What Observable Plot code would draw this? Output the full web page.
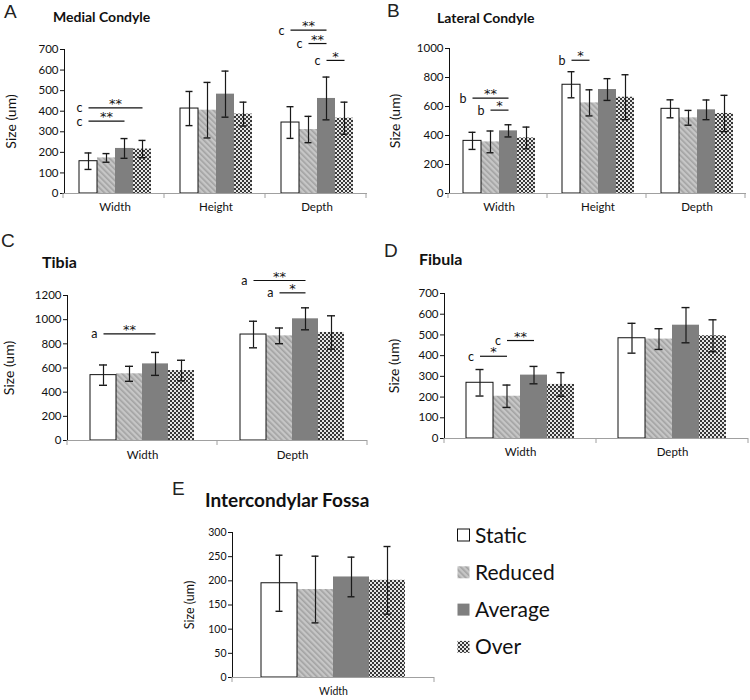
<!DOCTYPE html>
<html>
<head>
<meta charset="utf-8">
<script src="https://cdn.jsdelivr.net/npm/d3@7"></script>
<script src="https://cdn.jsdelivr.net/npm/@observablehq/plot@0.6"></script>
<style>
  body { margin: 0; background: #fff; font-family: Lato, sans-serif; }
  #root { position: relative; width: 750px; height: 700px; overflow: hidden; background: #fff; }
  #root > .panel { position: absolute; }
  #root svg { overflow: visible; }
  [aria-label="y-axis label"] { font-size: 14px; }
  .small [aria-label="y-axis label"] { font-size: 12.5px; }
  [aria-label="y-axis tick"] { stroke: #a0a0a0; }
  [aria-label="frame"] { stroke: #a0a0a0; }
  #overlay { position: absolute; left: 0; top: 0; pointer-events: none; }
</style>
</head>
<body>
<svg width="0" height="0" style="position:absolute">
  <defs>
    <pattern id="pRed" width="4" height="4" patternUnits="userSpaceOnUse" patternTransform="rotate(-45)">
      <rect width="4" height="4" fill="#c6c6c6"></rect>
      <rect width="1.6" height="4" fill="#a2a2a2"></rect>
    </pattern>
    <pattern id="pOver" width="4" height="4" patternUnits="userSpaceOnUse">
      <rect width="4" height="4" fill="#e6e6e6"></rect>
      <rect width="2" height="2" fill="#383838"></rect>
      <rect x="2" y="2" width="2" height="2" fill="#383838"></rect>
    </pattern>
  </defs>
</svg>
<div id="root"></div>
<script>
// ---------- data ----------
const series = ["Static", "Reduced", "Average", "Over"];
const seriesFill = ["#ffffff", "url(#pRed)", "#7f7f7f", "url(#pOver)"];

// A: Medial Condyle
const medialCats = ["Width", "Height", "Depth"];
const medialMean = [[157, 173, 219, 216], [413, 405, 483, 386], [345, 311, 462, 366]];
const medialErr  = [[40, 21, 48, 42], [83, 135, 112, 58], [77, 64, 104, 78]];
const medialSig = [
  {cat: "Width", from: "Static", to: "Over", y: 416, letter: "c", stars: "**"},
  {cat: "Width", from: "Static", to: "Average", y: 352, letter: "c", stars: "**"},
  {cat: "Depth", from: "Static", to: "Average", y: 794, letter: "c", stars: "**"},
  {cat: "Depth", from: "Reduced", to: "Average", y: 729, letter: "c", stars: "**"},
  {cat: "Depth", from: "Average", to: "Over", y: 647, letter: "c", stars: "*"}
];

// B: Lateral Condyle
const lateralCats = ["Width", "Height", "Depth"];
const lateralMean = [[363, 356, 432, 383], [750, 625, 717, 664], [584, 522, 577, 552]];
const lateralErr  = [[59, 75, 42, 75], [90, 90, 75, 155], [62, 51, 68, 125]];
const lateralSig = [
  {cat: "Width", from: "Static", to: "Average", y: 658, letter: "b", stars: "**"},
  {cat: "Width", from: "Reduced", to: "Average", y: 575, letter: "b", stars: "*"},
  {cat: "Height", from: "Static", to: "Reduced", y: 919, letter: "b", stars: "*"}
];

// C: Tibia
const tibiaCats = ["Width", "Depth"];
const tibiaMean = [[541, 552, 634, 579], [877, 866, 1007, 894]];
const tibiaErr  = [[84, 62, 95, 85], [110, 65, 91, 138]];
const tibiaSig = [
  {cat: "Width", from: "Static", to: "Average", y: 883, letter: "a", stars: "**"},
  {cat: "Depth", from: "Static", to: "Average", y: 1324, letter: "a", stars: "**"},
  {cat: "Depth", from: "Reduced", to: "Average", y: 1222, letter: "a", stars: "*"}
];

// D: Fibula
const fibulaCats = ["Width", "Depth"];
const fibulaMean = [[269, 204, 306, 261], [484, 480, 547, 496]];
const fibulaErr  = [[64, 54, 42, 57], [72, 50, 85, 77]];
const fibulaSig = [
  {cat: "Width", from: "Static", to: "Reduced", y: 397, letter: "c", stars: "*"},
  {cat: "Width", from: "Reduced", to: "Average", y: 473, letter: "c", stars: "**"}
];

// E: Intercondylar Fossa
const fossaCats = ["Width"];
const fossaMean = [[195, 182, 208, 201]];
const fossaErr  = [[58, 69, 41, 70]];
const fossaSig = [];

// ---------- drawing ----------
const root = document.getElementById("root");

function panel(cfg) {
  const rows = [];
  cfg.cats.forEach((c, ci) => series.forEach((s, si) =>
    rows.push({cat: c, series: s, mean: cfg.means[ci][si], err: cfg.errs[ci][si]})));
  const sIdx = s => series.indexOf(s);

  const make = (step, bw) => {
    const inset = Math.max(0, (bw - cfg.cap) / 2);
    return Plot.plot({
      width: cfg.w, height: cfg.h,
      marginTop: cfg.mt, marginRight: cfg.mr, marginBottom: cfg.mb, marginLeft: cfg.ml,
      style: {fontFamily: "Lato, sans-serif", fontSize: cfg.fs + "px", color: "#111", background: "transparent", overflow: "visible"},
      fx: {domain: cfg.cats, padding: 0, axis: "bottom", tickSize: 0, tickPadding: cfg.tp, label: null},
      x: {domain: series, paddingInner: 0, paddingOuter: cfg.po, axis: null},
      y: {domain: [0, cfg.yMax], ticks: d3.range(0, cfg.yMax + 1, cfg.yStep), tickFormat: d => String(d),
          tickSize: 4, tickPadding: 2,
          label: "Size (um)", labelAnchor: "center", labelOffset: cfg.lo, labelArrow: "none", line: true},
      color: {type: "ordinal", domain: series, range: seriesFill},
      marks: [
        Plot.barY(rows, {fx: "cat", x: "series", y: "mean", fill: "series"}),
        Plot.barY(rows.filter(d => d.series === "Static"), {fx: "cat", x: "series", y: "mean", fill: "none", stroke: "#111", strokeWidth: 1}),
        Plot.ruleY([0], {stroke: "#a0a0a0"}),
        Plot.ruleX(rows, {fx: "cat", x: "series", y1: d => d.mean - d.err, y2: d => d.mean + d.err, stroke: "#1a1a1a", strokeWidth: 1.2}),
        Plot.tickY(rows, {fx: "cat", x: "series", y: d => d.mean + d.err, insetLeft: inset, insetRight: inset, stroke: "#1a1a1a", strokeWidth: 1.4}),
        Plot.tickY(rows, {fx: "cat", x: "series", y: d => d.mean - d.err, insetLeft: inset, insetRight: inset, stroke: "#1a1a1a", strokeWidth: 1.4}),
        Plot.link(cfg.sig, {fx: "cat", x1: "from", x2: "to", y1: "y", y2: "y", stroke: "#111", strokeWidth: 1.2}),
        Plot.text(cfg.sig, {fx: "cat", x: "from", y: "y", text: "letter", textAnchor: "end", dx: -6, dy: 0.5, fontSize: 12.5, fill: "#111"}),
        ...cfg.sig.map(s => Plot.text([s], {fx: "cat", x: "from", y: "y", text: "stars",
          dx: (sIdx(s.to) - sIdx(s.from)) * step / 2, dy: -4, fontSize: 13, fontFamily: "DejaVu Sans, sans-serif",
          letterSpacing: "1px", fill: "#111"}))
      ]
    });
  };

  let chart = make(0, 0);
  const xs = chart.scale("x");
  const step = xs.step ?? xs.bandwidth;
  chart = make(step, xs.bandwidth);

  // Excel-style category separator ticks, from the plot's own fx / y scales
  const fx = chart.scale("fx"), ys = chart.scale("y");
  const fstep = fx.step ?? fx.bandwidth;
  const y0 = ys.apply(0);
  const edges = d3.range(cfg.cats.length + 1).map(i => fx.range[0] + i * fstep);
  d3.select(chart).append("g").attr("aria-label", "category separators")
    .selectAll("line").data(edges).join("line")
    .attr("x1", d => d).attr("x2", d => d).attr("y1", y0).attr("y2", y0 + 5)
    .attr("stroke", "#a0a0a0");

  const div = document.createElement("div");
  div.className = "panel" + (cfg.small ? " small" : "");
  div.style.left = cfg.left + "px";
  div.style.top = cfg.top + "px";
  div.appendChild(chart);
  root.appendChild(div);
}

panel({cats: medialCats, means: medialMean, errs: medialErr, sig: medialSig, yMax: 700, yStep: 100,
  left: 0, top: 0, w: 370, h: 222, mt: 49, mr: 2, mb: 29, ml: 63, po: 0.75, tp: 9, lo: 58, fs: 11.5, cap: 7});
panel({cats: lateralCats, means: lateralMean, errs: lateralErr, sig: lateralSig, yMax: 1000, yStep: 200,
  left: 370, top: 0, w: 380, h: 222, mt: 48, mr: 3, mb: 29, ml: 78, po: 0.75, tp: 9, lo: 59, fs: 11.5, cap: 7});
panel({cats: tibiaCats, means: tibiaMean, errs: tibiaErr, sig: tibiaSig, yMax: 1200, yStep: 200,
  left: 0, top: 230, w: 370, h: 232, mt: 65, mr: 3, mb: 22, ml: 67, po: 0.78, tp: 10, lo: 63, fs: 11.5, cap: 8});
panel({cats: fibulaCats, means: fibulaMean, errs: fibulaErr, sig: fibulaSig, yMax: 700, yStep: 100,
  left: 370, top: 230, w: 380, h: 232, mt: 63, mr: 2, mb: 24, ml: 74, po: 0.78, tp: 9, lo: 55, fs: 11.5, cap: 8});
panel({cats: fossaCats, means: fossaMean, errs: fossaErr, sig: fossaSig, yMax: 300, yStep: 50,
  left: 170, top: 480, w: 270, h: 220, mt: 52, mr: 6, mb: 23, ml: 62, po: 0.75, tp: 10, lo: 47, fs: 10.5, cap: 7, small: true});

// ---------- titles, panel letters and legend ----------
const titles = [
  {letter: "A", lx: 4, ly: 18, title: "Medial Condyle", tx: 53, ty: 21.5, size: 14},
  {letter: "B", lx: 387, ly: 17, title: "Lateral Condyle", tx: 437, ty: 23, size: 14},
  {letter: "C", lx: 1, ly: 247, title: "Tibia", tx: 42, ty: 268, size: 16},
  {letter: "D", lx: 384, ly: 257, title: "Fibula", tx: 419, ty: 265, size: 16},
  {letter: "E", lx: 172, ly: 495, title: "Intercondylar Fossa", tx: 205, ty: 507, size: 19}
];
const overlay = d3.select(root).append("svg").attr("id", "overlay").attr("width", 750).attr("height", 700);
titles.forEach(t => {
  overlay.append("text").attr("x", t.lx).attr("y", t.ly).attr("font-family", "Liberation Sans, Arial, sans-serif")
    .attr("font-size", 19).attr("fill", "#222").text(t.letter);
  overlay.append("text").attr("x", t.tx).attr("y", t.ty).attr("font-family", "Lato, sans-serif")
    .attr("font-weight", "bold").attr("font-size", t.size).attr("fill", "#111").text(t.title);
});
const legend = overlay.append("g").attr("aria-label", "legend");
series.forEach((s, i) => {
  const cy = 535 + i * 37.3;
  legend.append("rect").attr("x", 457.5).attr("y", cy - 6).attr("width", 12).attr("height", 12)
    .attr("fill", seriesFill[i]).attr("stroke", s === "Static" ? "#111" : "none");
  legend.append("text").attr("x", 475).attr("y", cy + 7.5).attr("font-family", "Lato, sans-serif")
    .attr("font-size", 21).attr("fill", "#111").text(s);
});
</script>
</body>
</html>
